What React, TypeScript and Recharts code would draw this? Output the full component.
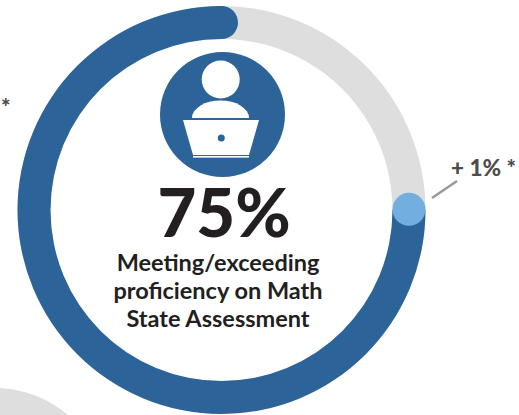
import { PieChart, Pie, Cell, Sector } from 'recharts';

const proficiency = [75, 25];
const track = [100];
const change = [1, 99];
const captionLines = ['Meeting/exceeding', 'proficiency on Math', 'State Assessment'];
const headline = '75%';
const changeLabel = '+ 1% *';
const priorLabel = '*';

const BLUE = '#2c6399';
const LIGHT_BLUE = '#73aee0';
const GRAY = '#dedede';
const RADIAN = Math.PI / 180;

const toRows = (values: number[]) => values.map((value) => ({ value }));

// flat start, round cap on the far end of the filled arc
function CappedArc(props: any) {
  if (props.index !== 0) return null;
  const { cx, cy, innerRadius, outerRadius, endAngle } = props;
  const r = (innerRadius + outerRadius) / 2;
  return (
    <g>
      <Sector {...props} />
      <circle
        cx={cx + r * Math.cos(-endAngle * RADIAN)}
        cy={cy + r * Math.sin(-endAngle * RADIAN)}
        r={(outerRadius - innerRadius) / 2}
        fill={BLUE}
      />
    </g>
  );
}

// the change marker is a dot sitting on the middle of its slice
function ChangeDot(props: any) {
  if (props.index !== 0) return null;
  const { cx, cy, innerRadius, outerRadius, startAngle, endAngle } = props;
  const r = (innerRadius + outerRadius) / 2;
  const mid = (startAngle + endAngle) / 2;
  return (
    <circle
      cx={cx + r * Math.cos(-mid * RADIAN)}
      cy={cy + r * Math.sin(-mid * RADIAN)}
      r={16.5}
      fill={LIGHT_BLUE}
    />
  );
}

export default function App() {
  const ring = { cx: 221.5, cy: 210, innerRadius: 171, outerRadius: 204, stroke: 'none', dataKey: 'value', isAnimationActive: false };
  return (
    <div style={{ position: 'absolute', left: 0, top: 0, width: 519, height: 415, overflow: 'hidden' }}>
      <PieChart width={519} height={415} margin={{ top: 0, right: 0, bottom: 0, left: 0 }}>
        <circle cx={-5} cy={500} r={112} fill={GRAY} />
        <Pie {...ring} data={toRows(track)} startAngle={0} endAngle={-360} fill={GRAY} />
        <Pie {...ring} data={toRows(proficiency)} startAngle={0} endAngle={-360} fill={BLUE} shape={CappedArc}>
          <Cell fill={BLUE} />
          <Cell fill="none" />
        </Pie>
        <Pie {...ring} data={toRows(change)} startAngle={2} endAngle={-358} fill={LIGHT_BLUE} shape={ChangeDot} />

        <circle cx={222.5} cy={114.5} r={62.5} fill={BLUE} />
        <circle cx={220.7} cy={79.5} r={19} fill="#fff" />
        <path d="M192 118 A28.5 17.5 0 0 1 249 118 Z" fill="#fff" />
        <polygon points="183,120 259,120 249,155 193,155" fill="#fff" />
        <rect x={193} y={156} width={56} height={1.6} fill="#fff" />
        <circle cx={221.3} cy={138} r={3.5} fill={BLUE} />

        <line x1={432} y1={198} x2={457} y2={181} stroke="#999" strokeWidth={2.5} />
        <text x={451} y={176} fontFamily="Lato" fontWeight={900} fontSize={22.5} fill="#4d4d4d">{changeLabel}</text>
        <text x={1} y={115} fontFamily="Lato" fontWeight={900} fontSize={22.5} fill="#4d4d4d">{priorLabel}</text>
        <text x={224} y={237} textAnchor="middle" fontFamily="Lato" fontWeight={900} fontSize={67} fill="#231f20">{headline}</text>
        {captionLines.map((line, i) => (
          <text key={line} x={218} y={271 + i * 28} textAnchor="middle" fontFamily="Lato" fontWeight={700} fontSize={23.5} fill="#231f20">{line}</text>
        ))}
      </PieChart>
    </div>
  );
}
